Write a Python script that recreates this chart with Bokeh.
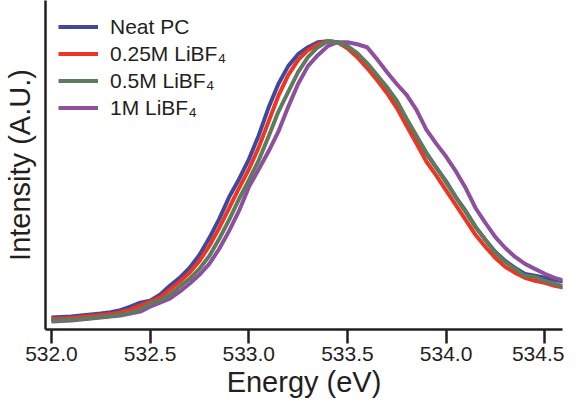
from bokeh.plotting import figure
from bokeh.models import Range1d, FixedTicker, Legend, LegendItem
from bokeh.embed import file_html
from bokeh.resources import INLINE

energy = [532.00, 532.05, 532.10, 532.15, 532.20, 532.25, 532.30, 532.35, 532.40, 532.45,
          532.50, 532.55, 532.60, 532.65, 532.70, 532.75, 532.80, 532.85, 532.90, 532.95,
          533.00, 533.05, 533.10, 533.15, 533.20, 533.25, 533.30, 533.35, 533.40, 533.45,
          533.50, 533.55, 533.60, 533.65, 533.70, 533.75, 533.80, 533.85, 533.90, 533.95,
          534.00, 534.05, 534.10, 534.15, 534.20, 534.25, 534.30, 534.35, 534.40, 534.45,
          534.50, 534.55, 534.60]

neat_pc = [3, 3.5, 4, 5, 6, 7, 8.5, 10.5, 14, 18,
           20, 26, 35, 43, 53, 66, 83, 102, 124, 142,
           162, 186, 214, 238, 256, 268, 275, 280, 281, 280,
           276, 268, 258, 246, 234, 221, 202, 185, 168, 154,
           140, 124, 110, 94, 81, 69, 60, 53, 47, 45,
           43, 41, 39]

libf4_025 = [1.5, 2, 2.5, 3.5, 4.5, 5.5, 6.5, 8.5, 11, 15,
             19, 23, 31, 39, 48, 60, 75, 93, 113, 133,
             152, 174, 200, 226, 247, 262, 272, 278, 281, 280,
             274, 265, 254, 242, 229, 214, 196, 178, 160, 146,
             131, 116, 101, 86, 74, 63, 54, 48, 43, 40,
             38, 35, 33]

libf4_05 = [0, 0.5, 1, 1.5, 2.5, 3.5, 4.5, 6, 8, 11,
            17, 20, 26, 34, 42, 52, 65, 82, 101, 122,
            141, 161, 185, 210, 230, 250, 265, 275, 281, 280,
            276, 269, 259, 247, 235, 221, 203, 186, 169, 154,
            139, 124, 109, 94, 81, 68, 59, 52, 45, 44,
            40, 37, 34]

libf4_1 = [-1, -0.5, 0, 1, 2, 3, 4, 5, 7, 9,
           14, 18, 22, 29, 37, 46, 57, 72, 90, 110,
           134, 152, 170, 190, 215, 238, 256, 267, 276, 280,
           280, 278, 275, 263, 250, 238, 227, 212, 192, 178,
           165, 150, 133, 113, 98, 84, 73, 64, 57, 52,
           47, 43, 40]

series_labels = ["Neat PC", "0.25M LiBF\u2084", "0.5M LiBF\u2084", "1M LiBF\u2084"]
series_colors = ["#41479B", "#EE3524", "#5F7B5D", "#8E4F9F"]

x_ticks = [532.0, 532.5, 533.0, 533.5, 534.0, 534.5]
x_tick_labels = ["532.0", "532.5", "533.0", "533.5", "534.0", "534.5"]

FONT = "Liberation Sans"
INK = "#231F20"

p = figure(width=564, height=400, output_backend="svg", toolbar_location=None,
           x_range=Range1d(531.97, 534.59), y_range=Range1d(-9, 322),
           min_border_left=38, min_border_right=2, min_border_top=0, min_border_bottom=0)
p.outline_line_color = None
p.xgrid.visible = False
p.ygrid.visible = False
p.background_fill_color = "white"

renderers = {}
for key, ys, col in [("blue", neat_pc, series_colors[0]),
                     ("red", libf4_025, series_colors[1]),
                     ("purple", libf4_1, series_colors[3]),
                     ("green", libf4_05, series_colors[2])]:
    renderers[key] = p.line(energy, ys, line_color=col, line_width=4, line_join="round")

legend = Legend(items=[
    LegendItem(label=series_labels[0], renderers=[renderers["blue"]]),
    LegendItem(label=series_labels[1], renderers=[renderers["red"]]),
    LegendItem(label=series_labels[2], renderers=[renderers["green"]]),
    LegendItem(label=series_labels[3], renderers=[renderers["purple"]]),
], location="top_left")
legend.border_line_color = None
legend.background_fill_alpha = 0
legend.padding = 0
legend.margin = 13
legend.spacing = 0
legend.glyph_width = 40
legend.glyph_height = 27
legend.label_height = 27
legend.label_standoff = 12
legend.label_text_font = FONT
legend.label_text_font_size = "21px"
legend.label_text_color = INK
legend.label_text_baseline = "middle"
p.add_layout(legend, "center")

xa = p.xaxis[0]
xa.ticker = FixedTicker(ticks=x_ticks)
xa.major_label_overrides = {t: l for t, l in zip(x_ticks, x_tick_labels)}
xa.minor_tick_line_color = None
xa.major_tick_in = 0
xa.major_tick_out = 14
xa.major_tick_line_width = 2.5
xa.major_tick_line_color = INK
xa.axis_line_width = 2.5
xa.axis_line_color = INK
xa.major_label_text_font = FONT
xa.major_label_text_font_size = "21px"
xa.major_label_text_color = INK
xa.major_label_standoff = 3
xa.axis_label = "Energy (eV)"
xa.axis_label_text_font = FONT
xa.axis_label_text_font_size = "29px"
xa.axis_label_text_font_style = "normal"
xa.axis_label_text_color = INK
xa.axis_label_standoff = 2

ya = p.yaxis[0]
ya.ticker = FixedTicker(ticks=[])
ya.minor_tick_line_color = None
ya.major_tick_line_color = None
ya.major_label_text_font_size = "0px"
ya.axis_line_width = 2.5
ya.axis_line_color = INK
ya.axis_label = "Intensity (A.U.)"
ya.axis_label_text_font = FONT
ya.axis_label_text_font_size = "29px"
ya.axis_label_text_font_style = "normal"
ya.axis_label_text_color = INK
ya.axis_label_standoff = 10

open("out.html", "w").write(file_html(p, INLINE))
